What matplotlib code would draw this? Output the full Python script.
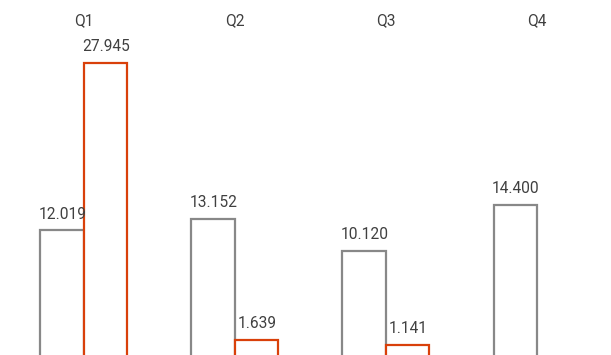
import numpy as np
import matplotlib
matplotlib.use("Agg")
import matplotlib.pyplot as plt

quarters = ["Q1", "Q2", "Q3", "Q4"]
gray_values = [12.019, 13.152, 10.120, 14.400]
red_values = [27.945, 1.639, 1.141, None]

plt.rcParams["font.family"] = ["Roboto", "DejaVu Sans"]

fig = plt.figure(figsize=(6.11, 3.55), dpi=100)
ax = fig.add_axes([0, 0, 1, 1])

x = np.arange(len(quarters))
w = 0.288
text_color = "#404040"
gray = "#888888"
red = "#D9400A"

for i, (g, r) in enumerate(zip(gray_values, red_values)):
    ax.bar(x[i] - w / 2, g, width=w, facecolor="white", edgecolor=gray, linewidth=1.6)
    ax.text(x[i] - w / 2, g + 0.85, f"{g:.3f}", ha="center", va="bottom", fontsize=11.2, color=text_color)
    if r is not None:
        ax.bar(x[i] + w / 2, r, width=w, facecolor="white", edgecolor=red, linewidth=1.6)
        ax.text(x[i] + w / 2, r + 0.85, f"{r:.3f}", ha="center", va="bottom", fontsize=11.2, color=text_color)
    ax.text(x[i], 31.9, quarters[i], ha="center", va="center", fontsize=11.2, color=text_color)

ax.set_xlim(-0.556, 3.49)
ax.set_ylim(0.2, 33.9)
ax.axis("off")

plt.savefig("out.png", dpi=100)
